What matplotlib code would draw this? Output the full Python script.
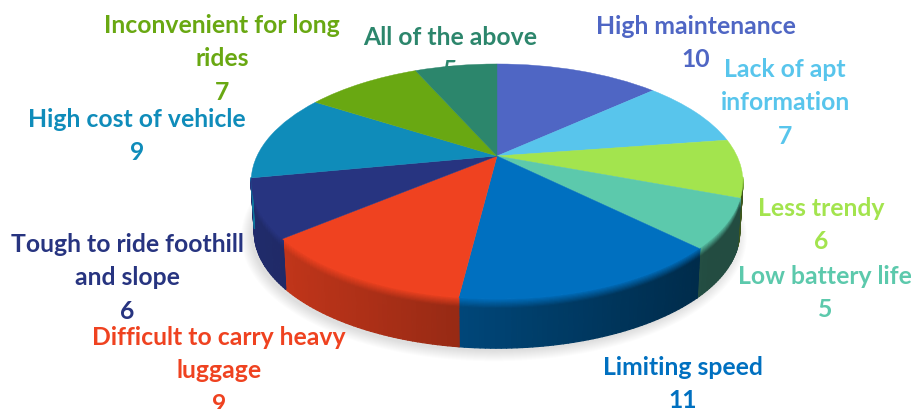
import numpy as np
import matplotlib
matplotlib.use('Agg')
import matplotlib.pyplot as plt
from matplotlib.collections import PolyCollection
from matplotlib.colors import to_rgb
from matplotlib.transforms import Transform

# Data, clockwise from 12 o'clock
names = ['High maintenance', 'Lack of apt\ninformation', 'Less trendy', 'Low battery life',
         'Limiting speed', 'Difficult to carry heavy\nluggage', 'Tough to ride foothill\nand slope',
         'High cost of vehicle', 'Inconvenient for long\nrides', 'All of the above']
values = [10, 7, 6, 5, 11, 9, 6, 9, 7, 5]
colors = ['#4F66C4', '#58C5EC', '#A3E44E', '#5CC9AC', '#0070C0',
          '#EF4220', '#273480', '#0F8CBA', '#69A812', '#2C866C']
label_x = [696, 785, 821, 825, 683, 219, 127, 137, 222, 450]
label_y = [43, 103, 225, 293, 384, 371, 278, 136, 59, 54]

# Perspective of the disc, fitted to the picture (pixels)
cx, cy = 497, 157
A, B, k = 240, 112, 0.217
depth = 51
shrink = 0.987


def project(u, v, drop=0.0):
    w = 1 + k*v
    s = 1 - (1 - shrink)*drop
    return cx + s*A*u/w, cy - s*B*v/w + depth*drop


class Perspective(Transform):
    input_dims = 2
    output_dims = 2

    def transform_non_affine(self, values):
        xy = np.asarray(values, dtype=float)
        return np.column_stack(project(xy[:, 0], xy[:, 1]))


fig = plt.figure(figsize=(9.11, 4.10), dpi=100)
ax = fig.add_axes([0, 0, 1, 1])
wedges, _ = ax.pie(values, colors=colors, startangle=90, counterclock=False, radius=1,
                   wedgeprops={'linewidth': 0.3})
ax.set_aspect('auto')
ax.set_xlim(0, 911)
ax.set_ylim(410, 0)
ax.axis('off')

persp = Perspective() + ax.transData
for w, c in zip(wedges, colors):
    w.set_transform(persp)
    w.set_edgecolor(c)
    w.set_zorder(5)

# soft shadow under the disc
t = np.radians(np.linspace(0, 360, 361))
for grow in np.linspace(10, 0, 11):
    sx, sy = project(np.cos(t), np.sin(t), 1.0)
    sx = cx + (sx - cx)*(1 + grow/240) - 3
    sy = cy + (sy - cy - depth)*(1 + grow/140) + depth + 3
    ax.fill(sx, sy, color='k', alpha=0.012, lw=0, zorder=1)

# side wall, shaded across and down
heights = np.concatenate([np.linspace(0, 0.2, 9), [0.4, 1.0]])
quads, quad_cols = [], []
for w, c in zip(wedges, colors):
    base = np.array(to_rgb(c))
    angles = np.radians(np.arange(w.theta1, w.theta2 + 0.5, 1.0))
    angles = np.append(angles, np.radians(w.theta2))
    for a0, a1 in zip(angles[:-1], angles[1:]):
        if np.sin(0.5*(a0 + a1)) > -0.18:
            continue
        for h0, h1 in zip(heights[:-1], heights[1:]):
            x00, y00 = project(np.cos(a0), np.sin(a0), h0)
            x10, y10 = project(np.cos(a1), np.sin(a1), h0)
            x11, y11 = project(np.cos(a1), np.sin(a1), h1)
            x01, y01 = project(np.cos(a0), np.sin(a0), h1)
            shade = np.clip(0.63 - (0.5*(x00 + x10) - 460)*0.001, 0.38, 0.85)
            mix = min(0.5*(h0 + h1)/0.2, 1.0)
            quads.append([(x00, y00), (x10, y10), (x11, y11), (x01, y01)])
            quad_cols.append(base*((1 - mix)*1.0 + mix*shade))
ax.add_collection(PolyCollection(quads, facecolors=quad_cols, edgecolors=quad_cols,
                                 linewidths=0.9, zorder=3))

# labels sit behind the disc ("5" of the last one is partly hidden)
for name, val, c, x, y in zip(names, values, colors, label_x, label_y):
    ax.text(x, y, f'{name}\n{val}', color=c, ha='center', va='center', multialignment='center',
            family='Lato', weight='bold', fontsize=17.8, linespacing=1.55, zorder=2, clip_on=True)

fig.savefig('out.png', dpi=100)
